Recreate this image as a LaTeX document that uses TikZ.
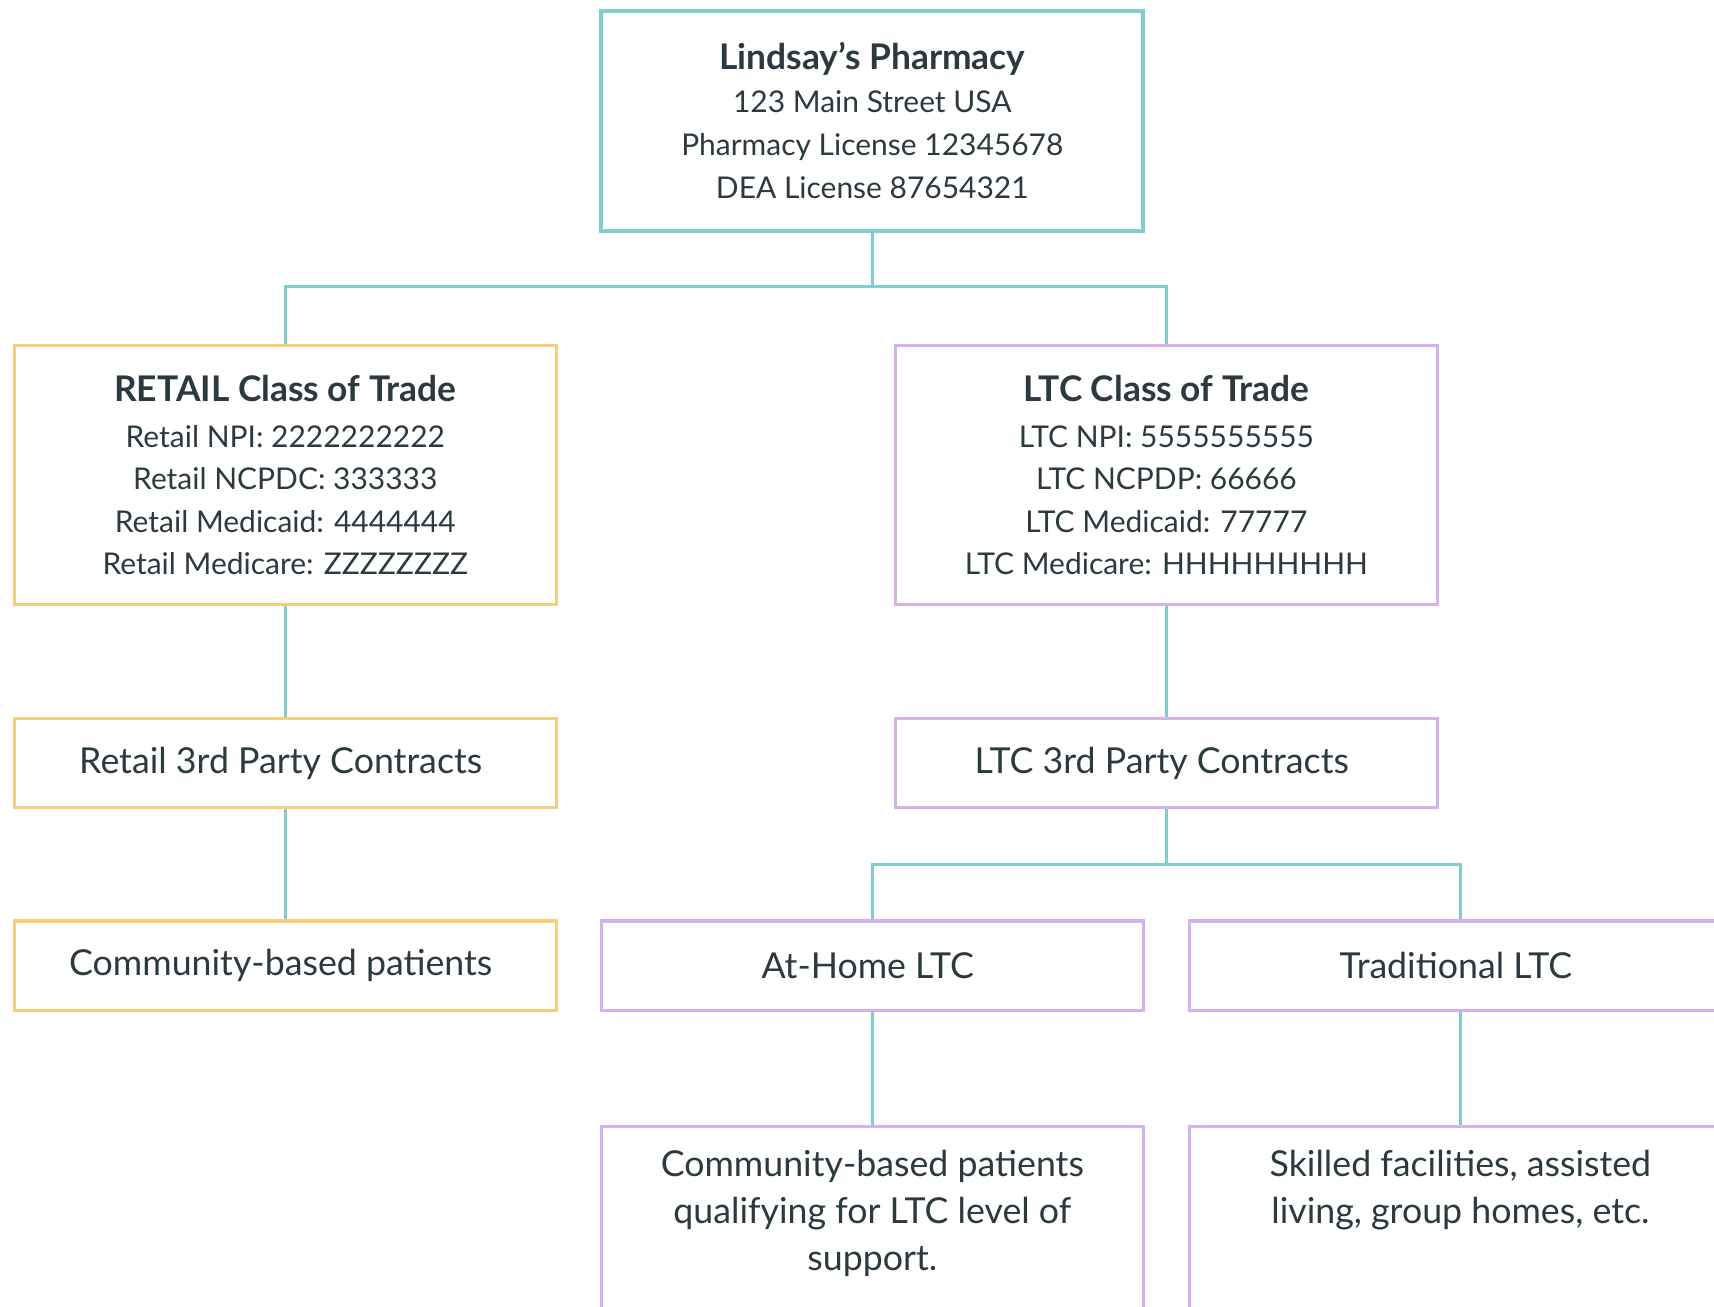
\documentclass[tikz,border=0pt]{standalone}
\usepackage{fontspec}
\setmainfont{Lato}
\usetikzlibrary{calc}

\definecolor{lnteal}{RGB}{127,205,207}
\definecolor{lnorange}{RGB}{247,206,124}
\definecolor{lnpurple}{RGB}{214,178,236}
\definecolor{lntext}{RGB}{44,58,64}

\newcommand{\boxhead}[1]{{\fontsize{9.2}{12}\selectfont\bfseries #1}}

\begin{document}
\begin{tikzpicture}[line width=0.8pt,
      box/.style={rectangle,draw,fill=white,minimum width=4.96cm,text=lntext,align=center},
      topbox/.style={box,draw=lnteal,line width=1pt,minimum height=2.01cm,
        font=\fontsize{7.8}{11.2}\selectfont},
      retailbox/.style={box,draw=lnorange},
      ltcbox/.style={box,draw=lnpurple},
      classbox/.style={minimum height=2.37cm,font=\fontsize{7.8}{11}\selectfont},
      onebox/.style={minimum height=0.82cm,font=\fontsize{9.3}{12}\selectfont},
      lowbox/.style={anchor=north,inner ysep=0.22cm,text depth=2.2cm,
        font=\fontsize{9.3}{12.2}\selectfont},
      link/.style={draw=lnteal,line width=0.7pt}]
      \clip (0,0) rectangle (15.68,-11.95);

      \node[topbox] (pharm) at ( 7.98, -1.105) {
        \boxhead{Lindsay's Pharmacy}\\
        123 Main Street USA\\
        Pharmacy License 12345678\\
        DEA License 87654321 };

      \node[retailbox,classbox] (retail) at ( 2.61, -4.345) {
        \boxhead{RETAIL Class of Trade}\\[1pt]
        Retail NPI: 2222222222\\
        Retail NCPDC: 333333\\
        Retail Medicaid: 4444444\\
        Retail Medicare: ZZZZZZZZ };
      \node[ltcbox,classbox] (ltc) at (10.67, -4.345) {
        \boxhead{LTC Class of Trade}\\[1pt]
        LTC NPI: 5555555555\\
        LTC NCPDP: 66666\\
        LTC Medicaid: 77777\\
        LTC Medicare: HHHHHHHHH };

      \node[retailbox,onebox] (retail3) at ( 2.61, -6.98) { Retail 3rd Party Contracts };
      \node[ltcbox,onebox] (ltc3) at (10.67, -6.98) { LTC 3rd Party Contracts };

      \node[retailbox,onebox] (commun) at ( 2.61, -8.835) { Community-based patients };
      \node[ltcbox,onebox] (athome) at ( 7.98, -8.835) { At-Home LTC };
      \node[ltcbox,onebox] (trad) at (13.36, -8.835) { Traditional LTC };

      \node[ltcbox,lowbox] (homepat) at ( 7.98, -10.29) {
        Community-based patients\\
        qualifying for LTC level of\\
        support. };
      \node[ltcbox,lowbox] (facil) at (13.36, -10.29) {
        Skilled facilities, assisted\\
        living, group homes, etc. };

      \coordinate (split1) at ( 7.98, -2.62);
      \coordinate (split2) at (10.67, -7.91);

      \path[link]
      (pharm) -- (split1)
      (split1) -| (retail)
      (split1) -| (ltc)
      (retail) -- (retail3)
      (retail3) -- (commun)
      (ltc) -- (ltc3)
      (ltc3) -- (split2)
      (split2) -| (athome)
      (split2) -| (trad)
      (athome) -- (homepat)
      (trad) -- (facil)
      ;
      \end{tikzpicture}
\end{document}
